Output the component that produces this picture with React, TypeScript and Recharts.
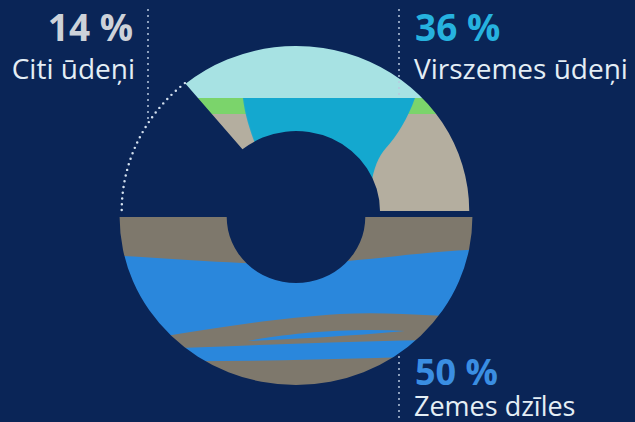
import React from 'react';
import { PieChart, Pie, Cell } from 'recharts';

// Shares of the total (%), in pie order: starting at 3 o'clock, going counter-clockwise
const shareNames = ['Virszemes ūdeņi', 'Citi ūdeņi', 'Zemes dzīles'];
const shareValues = [36, 14, 50];
const shareLabels = ['36 %', '14 %', '50 %'];

const W = 635;
const H = 422;
const CX = 296;
// the picture is a little wider than tall
const STRETCH_X = 1.05;

const BG = '#0a2557';
const TEXT = '#e4eef5';

const pieData = shareNames.map((name, i) => ({ name, value: shareValues[i] }));

// Undo the horizontal stretch inside patterns, so layers can be written in picture coords
const unstretch = `translate(${CX},0) scale(${1 / STRETCH_X},1) translate(${-CX},0)`;

const RADIAN = Math.PI / 180;
const polar = (cx: number, cy: number, r: number, angle: number) => ({
    x: cx + r * Math.cos(-angle * RADIAN),
    y: cy + r * Math.sin(-angle * RADIAN),
});

// "Citi ūdeņi" is not filled, only outlined with a dotted arc
const renderOutline = (props: any) => {
    const { cx, cy, outerRadius, index, midAngle, percent } = props;
    if (index !== 1) return null;
    const span = percent * 360;
    const start = props.startAngle ?? midAngle - span / 2;
    const end = props.endAngle ?? midAngle + span / 2;
    const r = outerRadius + 1;
    const a = polar(cx, cy, r, start);
    const b = polar(cx, cy, r, end);
    return (
        <path
            d={`M${a.x},${a.y} A${r},${r} 0 0 0 ${b.x},${b.y}`}
            fill="none"
            stroke="#d3e0ee"
            strokeWidth={2.4}
            strokeLinecap="round"
            strokeDasharray="0 5.8"
        />
    );
};

export default function App() {
    return (
        <div
            style={{
                position: 'absolute',
                left: 0,
                top: 0,
                width: W,
                height: H,
                background: BG,
                overflow: 'hidden',
            }}
        >
            <div
                style={{
                    position: 'absolute',
                    left: 0,
                    top: 0,
                    transform: `scaleX(${STRETCH_X})`,
                    transformOrigin: `${CX}px 0px`,
                }}
            >
                <PieChart width={W} height={H} margin={{ top: 0, right: 0, bottom: 0, left: 0 }}>
                    <defs>
                        {/* surface water: sky, grass, banks and a river bed */}
                        <pattern id="surface" patternUnits="userSpaceOnUse" x={0} y={0} width={W} height={H}>
                            <g transform={unstretch}>
                                <rect x={0} y={0} width={W} height={98} fill="#a7e2e3" />
                                <rect x={0} y={98} width={W} height={16} fill="#7bd46b" />
                                <rect x={0} y={114} width={W} height={H} fill="#b4ae9f" />
                                <path
                                    d="M243 98 L415 98 C408 118 397 136 386 148 C378 157 374 168 371 185 L300 200 L256 146 C250 130 245 115 243 98 Z"
                                    fill="#14a8cf"
                                />
                            </g>
                        </pattern>
                        {/* ground water: rock strata with water layers */}
                        <pattern id="ground" patternUnits="userSpaceOnUse" x={0} y={0} width={W} height={H}>
                            <g transform={unstretch}>
                                <rect x={0} y={0} width={W} height={H} fill="#7e786c" />
                                <path
                                    d="M100 255 C160 257 220 264 296 264 C370 262 420 250 500 249 L500 319 C450 317 390 311 340 314 C280 318 220 327 172 335 L100 342 Z"
                                    fill="#2a87dc"
                                />
                                <path
                                    d="M150 349 C250 346 340 341 440 340 L440 356 C340 359 250 362 150 361 Z"
                                    fill="#2a87dc"
                                />
                                <path
                                    d="M248 341 C290 333 350 328 405 331 C350 336 295 339 248 341 Z"
                                    fill="#2a87dc"
                                />
                            </g>
                        </pattern>
                    </defs>
                    <Pie
                        data={pieData}
                        dataKey="value"
                        cx={CX}
                        cy={211}
                        innerRadius={80}
                        outerRadius={165}
                        startAngle={0}
                        endAngle={360}
                        stroke="none"
                        labelLine={false}
                        label={renderOutline}
                        isAnimationActive={false}
                    >
                        {pieData.map((entry, index) => (
                            <Cell key={`top-${index}`} fill={index === 0 ? 'url(#surface)' : 'transparent'} />
                        ))}
                    </Pie>
                    <Pie
                        data={pieData}
                        dataKey="value"
                        cx={CX}
                        cy={217}
                        innerRadius={66}
                        outerRadius={168}
                        startAngle={0}
                        endAngle={360}
                        stroke="none"
                        isAnimationActive={false}
                    >
                        {pieData.map((entry, index) => (
                            <Cell key={`bottom-${index}`} fill={index === 2 ? 'url(#ground)' : 'transparent'} />
                        ))}
                    </Pie>
                </PieChart>
            </div>

            {/* labels and dotted leaders */}
            <svg
                width={W}
                height={H}
                style={{ position: 'absolute', left: 0, top: 0 }}
                fontFamily="'Open Sans', 'Noto Sans', sans-serif"
            >
                <g stroke="#b9c9de" strokeWidth={2} strokeLinecap="round" strokeDasharray="0 6" fill="none">
                    <line x1={148} y1={10} x2={148} y2={122} />
                    <line x1={399} y1={10} x2={399} y2={95} />
                    <line x1={399} y1={357} x2={399} y2={422} />
                </g>
                <text x={133} y={41} textAnchor="end" fontSize={37} fontWeight={700} fill="#cdd2d9">
                    {shareLabels[1]}
                </text>
                <text x={135} y={79} textAnchor="end" fontSize={28} fill={TEXT}>
                    {shareNames[1]}
                </text>
                <text x={415} y={41} fontSize={37} fontWeight={700} fill="#26b2df">
                    {shareLabels[0]}
                </text>
                <text x={414} y={79} fontSize={28} fill={TEXT}>
                    {shareNames[0]}
                </text>
                <text x={415} y={385} fontSize={36} fontWeight={700} fill="#3a8ee2">
                    {shareLabels[2]}
                </text>
                <text x={414} y={416} fontSize={27} fill={TEXT}>
                    {shareNames[2]}
                </text>
            </svg>
        </div>
    );
}
